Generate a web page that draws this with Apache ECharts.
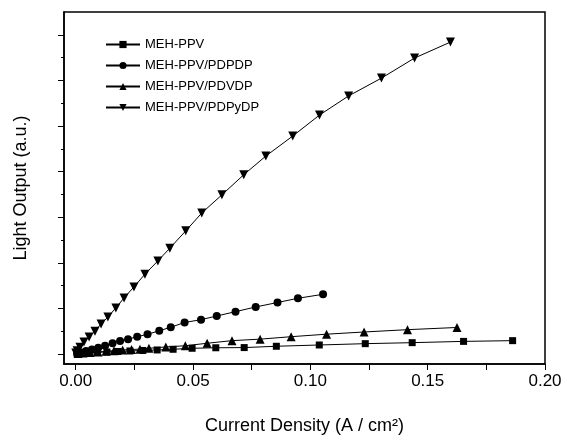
<!DOCTYPE html>
<html>
<head>
<meta charset="utf-8">
<script src="https://cdn.jsdelivr.net/npm/echarts@6/dist/echarts.min.js"></script>
<style>html,body{margin:0;padding:0;background:#fff}#c{width:567px;height:443px}</style>
</head>
<body>
<div id="c"></div>
<script>
// Series names
const seriesNames = ['MEH-PPV', 'MEH-PPV/PDPDP', 'MEH-PPV/PDVDP', 'MEH-PPV/PDPyDP'];

// MEH-PPV (squares)
const pvX = [0.0006, 0.0027, 0.0057, 0.0091, 0.0133, 0.0180, 0.0231, 0.0286, 0.0347, 0.0415, 0.0496, 0.0597, 0.0718, 0.0855, 0.1038, 0.1234, 0.1434, 0.1653, 0.1862];
const pvY = [0.009, 0.015, 0.022, 0.033, 0.044, 0.055, 0.066, 0.077, 0.088, 0.103, 0.125, 0.136, 0.140, 0.169, 0.197, 0.226, 0.248, 0.276, 0.292];

// MEH-PPV/PDPDP (circles)
const pdpX = [0.0006, 0.0023, 0.0044, 0.0069, 0.0096, 0.0125, 0.0157, 0.0189, 0.0223, 0.0262, 0.0306, 0.0356, 0.0405, 0.0464, 0.0534, 0.0601, 0.0681, 0.0767, 0.0860, 0.0947, 0.1054];
const pdpY = [0.011, 0.033, 0.066, 0.099, 0.138, 0.182, 0.235, 0.285, 0.325, 0.379, 0.432, 0.509, 0.586, 0.691, 0.752, 0.833, 0.928, 1.031, 1.129, 1.221, 1.309];

// MEH-PPV/PDVDP (up triangles)
const pdvX = [0.0010, 0.0031, 0.0061, 0.0095, 0.0129, 0.0163, 0.0200, 0.0238, 0.0274, 0.0312, 0.0384, 0.0467, 0.0560, 0.0666, 0.0786, 0.0918, 0.1069, 0.1229, 0.1414, 0.1625];
const pdvY = [0.011, 0.022, 0.033, 0.044, 0.059, 0.072, 0.088, 0.099, 0.105, 0.125, 0.154, 0.180, 0.235, 0.292, 0.325, 0.379, 0.434, 0.482, 0.533, 0.581];

// MEH-PPV/PDPyDP (down triangles)
const pdpyX = [0.0000, 0.0006, 0.0018, 0.0035, 0.0057, 0.0082, 0.0108, 0.0137, 0.0171, 0.0206, 0.0248, 0.0295, 0.0350, 0.0401, 0.0469, 0.0537, 0.0623, 0.0716, 0.0810, 0.0925, 0.1039, 0.1163, 0.1303, 0.1444, 0.1597];
const pdpyY = [0.02, 0.07, 0.15, 0.26, 0.37, 0.50, 0.66, 0.81, 1.01, 1.23, 1.47, 1.75, 2.04, 2.32, 2.70, 3.09, 3.49, 3.93, 4.34, 4.78, 5.24, 5.66, 6.05, 6.49, 6.84];

// Tick values
const xLabelTicks = [0, 0.05, 0.10, 0.15, 0.20];
const xTickValues = [0, 0.025, 0.05, 0.075, 0.10, 0.125, 0.15, 0.175, 0.20];
const yMajorTicks = [0, 1, 2, 3, 4, 5, 6, 7];
const yMinorTicks = [0.5, 1.5, 2.5, 3.5, 4.5, 5.5, 6.5];

const zip = (xs, ys) => xs.map((x, i) => [x, ys[i]]);
const FONT = 'Arial, "Liberation Sans", sans-serif';

const chart = echarts.init(document.getElementById('c'), null, {renderer: 'canvas'});

function mkSeries(name, xs, ys, symbol, size, rot) {
  return {
    name: name, type: 'line', data: zip(xs, ys),
    symbol: symbol, symbolSize: size, symbolRotate: rot || 0,
    showAllSymbol: true,
    lineStyle: {color: '#000', width: 1},
    itemStyle: {color: '#000', borderColor: '#000', borderWidth: 0},
    emphasis: {disabled: true},
    animation: false, z: 3
  };
}

chart.setOption({
  animation: false,
  backgroundColor: '#fff',
  grid: {left: 64, right: 22, top: 12, bottom: 79, show: true, borderColor: '#000', borderWidth: 1.5, backgroundColor: 'transparent'},
  legend: {
    orient: 'vertical', left: 100, top: 33,
    itemWidth: 34, itemHeight: 9, itemGap: 8,
    data: seriesNames,
    textStyle: {fontFamily: FONT, fontSize: 13, color: '#000'},
    inactiveColor: '#000'
  },
  xAxis: [{
    type: 'value', min: -0.005, max: 0.2,
    name: 'Current Density (A / cm²)', nameLocation: 'middle', nameGap: 53,
    nameTextStyle: {fontFamily: FONT, fontSize: 18, color: '#000'},
    axisLine: {show: true, onZero: false, lineStyle: {color: '#000', width: 1.5}},
    axisTick: {show: true, customValues: xTickValues, length: 6, inside: false, lineStyle: {color: '#000', width: 1}},
    axisLabel: {show: true, customValues: xLabelTicks, margin: 9, fontFamily: FONT, fontSize: 17, color: '#000',
      formatter: v => v.toFixed(2)},
    splitLine: {show: false}
  }],
  yAxis: [{
    type: 'value', min: -0.22, max: 7.5,
    name: 'Light Output (a.u.)', nameLocation: 'middle', nameGap: 34,
    nameTextStyle: {fontFamily: FONT, fontSize: 18, color: '#000'},
    axisLine: {show: true, onZero: false, lineStyle: {color: '#000', width: 1.5}},
    axisTick: {show: true, customValues: yMajorTicks, length: 6, inside: false, lineStyle: {color: '#000', width: 1}},
    axisLabel: {show: false},
    splitLine: {show: false}
  }, {
    type: 'value', min: -0.22, max: 7.5, position: 'left', offset: 0,
    axisLine: {show: false, onZero: false},
    axisTick: {show: true, customValues: yMinorTicks, length: 3, inside: false, lineStyle: {color: '#000', width: 1}},
    axisLabel: {show: false},
    splitLine: {show: false}
  }],
  series: [
    mkSeries(seriesNames[0], pvX, pvY, 'rect', 7),
    mkSeries(seriesNames[1], pdpX, pdpY, 'circle', 8),
    mkSeries(seriesNames[2], pdvX, pdvY, 'triangle', 9),
    mkSeries(seriesNames[3], pdpyX, pdpyY, 'triangle', 9, 180)
  ]
});
</script>
</body>
</html>
